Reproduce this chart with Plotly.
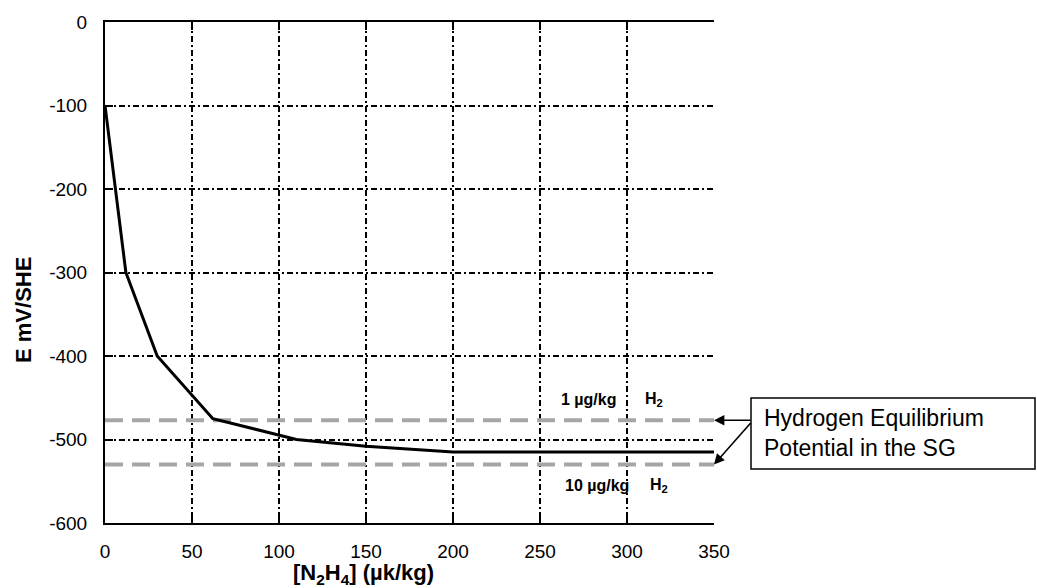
import plotly.graph_objects as go

# Data
n2h4 = [0, 12, 30, 62, 110, 150, 200, 350]
potential = [-100, -300, -400, -475, -500, -508, -515, -515]
h2_levels = [-477, -530]
h2_conc_labels = ["1 µg/kg", "10 µg/kg"]
h2_species = "H<sub>2</sub>"
x_ticks = [0, 50, 100, 150, 200, 250, 300, 350]
y_ticks = [0, -100, -200, -300, -400, -500, -600]

FONT = "Arial, Liberation Sans, sans-serif"

# plot area in pixels
L, R, T, B = 105, 714, 22, 523
W, H = 1037, 588

def px(xp):
    return (xp - L) / (R - L)

def py(yp):
    return (B - yp) / (B - T)

fig = go.Figure()

for lvl in h2_levels:
    fig.add_trace(go.Scatter(
        x=[x_ticks[0], x_ticks[-1]], y=[lvl, lvl], mode="lines",
        line=dict(color="#a6a6a6", width=4, dash="18px,9px"),
        showlegend=False, hoverinfo="skip"))

fig.add_trace(go.Scatter(
    x=n2h4, y=potential, mode="lines",
    line=dict(color="black", width=3), showlegend=False))

annotations = []
# H2 labels: concentration text and species text positioned separately
label_rows = [(399, 618, 643), (485, 631, 648)]
for lbl, (ypix, right_pix, h_pix) in zip(h2_conc_labels, label_rows):
    annotations.append(dict(x=px(right_pix), y=py(ypix), xref="paper", yref="paper",
                            xanchor="right", yanchor="middle",
                            text="<b>" + lbl + "</b>", showarrow=False,
                            font=dict(family=FONT, size=16, color="black")))
    annotations.append(dict(x=px(h_pix), y=py(ypix), xref="paper", yref="paper",
                            xanchor="left", yanchor="middle",
                            text="<b>" + h2_species + "</b>", showarrow=False,
                            font=dict(family=FONT, size=16, color="black")))

# arrows from callout box
for lvl, ayv in zip(h2_levels, [0, -43]):
    annotations.append(dict(x=350, y=lvl, xref="x", yref="y", text="",
                            showarrow=True, arrowhead=2, arrowsize=1.3,
                            arrowwidth=1.6, arrowcolor="black",
                            ax=38, ay=ayv, standoff=0))

# callout text
annotations.append(dict(x=px(762), y=py(433), xref="paper", yref="paper",
                        xanchor="left", yanchor="middle", align="left",
                        text="Hydrogen Equilibrium<br>Potential in the SG",
                        showarrow=False,
                        font=dict(family=FONT, size=23, color="black")))

# axis titles
annotations.append(dict(x=px(23), y=py(310), xref="paper", yref="paper",
                        xanchor="center", yanchor="middle",
                        text="<b>E mV/SHE</b>", textangle=-90, showarrow=False,
                        font=dict(family=FONT, size=22, color="black")))
annotations.append(dict(x=px(363), y=py(574), xref="paper", yref="paper",
                        xanchor="center", yanchor="middle",
                        text="<b>[N<sub>2</sub>H<sub>4</sub>] (µk/kg)</b>",
                        showarrow=False,
                        font=dict(family=FONT, size=22, color="black")))

shapes = [dict(type="rect", xref="paper", yref="paper",
               x0=px(751), x1=px(1035), y0=py(469), y1=py(398),
               line=dict(color="black", width=1.5), fillcolor="white")]

GRID_DASH = "6px,3px,2px,3px"

fig.update_layout(
    width=W, height=H,
    margin=dict(l=L, r=W - R, t=T, b=H - B),
    paper_bgcolor="white", plot_bgcolor="white",
    annotations=annotations, shapes=shapes,
    font=dict(family=FONT, size=19, color="black"),
    xaxis=dict(range=[0, 350], tickvals=x_ticks, ticktext=[str(v) for v in x_ticks],
               showgrid=True, gridcolor="black", gridwidth=1.6, griddash=GRID_DASH,
               showline=True, linecolor="black", linewidth=2, mirror="ticks",
               ticks="inside", ticklen=8, tickcolor="black", tickwidth=1.6,
               zeroline=False, tickfont=dict(size=19), ticklabelstandoff=10),
    yaxis=dict(range=[-600, 0], tickvals=y_ticks, ticktext=[str(v) for v in y_ticks],
               showgrid=True, gridcolor="black", gridwidth=1.6, griddash=GRID_DASH,
               showline=True, linecolor="black", linewidth=2,
               ticks="inside", ticklen=8, tickcolor="black", tickwidth=1.6,
               zeroline=False, tickfont=dict(size=19), ticklabelstandoff=12),
)

fig.write_html("out.html")
